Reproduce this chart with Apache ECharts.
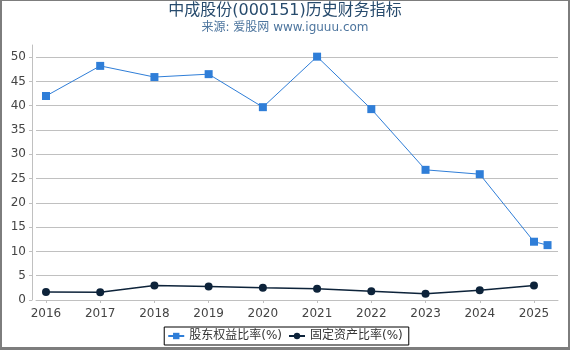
<!DOCTYPE html>
<html>
<head>
<meta charset="utf-8">
<script src="https://cdn.jsdelivr.net/npm/echarts@6/dist/echarts.min.js"></script>
<style>
html, body { margin: 0; padding: 0; background: #fff; }
#chart { position: absolute; left: 0; top: 0; width: 570px; height: 350px; }
#frame { position: absolute; left: 0; top: 0; width: 570px; height: 350px; box-sizing: border-box;
  border-left: 2px solid #7d7d7d; border-right: 2px solid #7d7d7d; border-top: 1px solid #7d7d7d; border-bottom: 3px solid #7d7d7d; pointer-events: none; }
</style>
</head>
<body>
<div id="chart"></div>
<div id="frame"></div>
<script>
var titleText = '中成股份(000151)历史财务指标';
var subtitleText = '来源: 爱股网 www.iguuu.com';
var yearTicks = [2016, 2017, 2018, 2019, 2020, 2021, 2022, 2023, 2024, 2025];
var xPositions = [2016, 2017, 2018, 2019, 2020, 2021, 2022, 2023, 2024, 2025, 2025.25];
var equityRatio = [42.0, 48.2, 45.9, 46.5, 39.7, 50.1, 39.3, 26.8, 25.9, 12.0, 11.3];
var fixedAssetRatio = [1.65, 1.6, 3.0, 2.8, 2.5, 2.3, 1.8, 1.3, 2.0, 3.0, null];
var seriesNames = ['股东权益比率(%)', '固定资产比率(%)'];

function pairs(xs, ys) {
  var out = [];
  for (var i = 0; i < xs.length; i++) {
    if (ys[i] !== null) out.push([xs[i], ys[i]]);
  }
  return out;
}

var font = "'DejaVu Sans', 'Noto Sans CJK SC', sans-serif";
var chart = echarts.init(document.getElementById('chart'), null, { renderer: 'canvas' });
chart.setOption({
  animation: false,
  backgroundColor: '#ffffff',
  textStyle: { fontFamily: font },
  title: {
    text: titleText,
    subtext: subtitleText,
    left: 'center',
    top: 1,
    padding: 0,
    itemGap: 0,
    textStyle: { fontSize: 16, fontWeight: 'normal', color: '#274b6d', lineHeight: 20, fontFamily: font },
    subtextStyle: { fontSize: 12, color: '#4d759e', lineHeight: 14, fontFamily: font }
  },
  legend: {
    left: 'center',
    top: 327,
    itemWidth: 16,
    itemHeight: 8,
    itemGap: 6,
    padding: [3, 6, 3, 3],
    borderColor: '#000',
    borderWidth: 1,
    textStyle: { fontSize: 12, color: '#333', fontFamily: font },
    data: seriesNames
  },
  grid: { left: 36, right: 12, top: 45, bottom: 50, containLabel: false },
  xAxis: {
    type: 'value',
    min: 2015.816,
    max: 2025.443,
    offset: 4,
    axisLine: { show: true, lineStyle: { color: '#c0c0c0', width: 1 } },
    axisTick: { show: true, length: 3, customValues: yearTicks, lineStyle: { color: '#c0c0c0' } },
    axisLabel: { customValues: yearTicks, margin: 4, fontSize: 12, color: '#444', fontFamily: font,
      formatter: function (v) { return String(Math.round(v)); } },
    splitLine: { show: false }
  },
  yAxis: {
    type: 'value',
    min: 0,
    max: 52.5,
    interval: 5,
    offset: 4,
    axisLine: { show: true, lineStyle: { color: '#c0c0c0', width: 1 } },
    axisTick: { show: true, length: 3, lineStyle: { color: '#c0c0c0' } },
    axisLabel: { margin: 6, fontSize: 12, color: '#444', fontFamily: font, showMaxLabel: false },
    splitLine: { show: true, showMinLine: false, showMaxLine: false, lineStyle: { color: '#c0c0c0', width: 1 } }
  },
  series: [
    {
      name: seriesNames[0],
      type: 'line',
      data: pairs(xPositions, equityRatio),
      symbol: 'rect',
      symbolSize: 8,
      itemStyle: { color: '#2f7ed8' },
      lineStyle: { color: '#2f7ed8', width: 1 }
    },
    {
      name: seriesNames[1],
      type: 'line',
      data: pairs(xPositions, fixedAssetRatio),
      symbol: 'circle',
      symbolSize: 8,
      itemStyle: { color: '#0d233a' },
      lineStyle: { color: '#0d233a', width: 1.5 }
    }
  ]
});
</script>
</body>
</html>
